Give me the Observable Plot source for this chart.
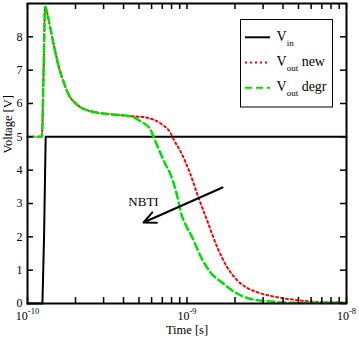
<!DOCTYPE html>
<html><head><meta charset="utf-8">
<script src="https://cdn.jsdelivr.net/npm/d3@7"></script>
<script src="https://cdn.jsdelivr.net/npm/@observablehq/plot@0.6"></script>
<style>body{margin:0;background:#fff;} svg text{font-family:"Liberation Serif","Times New Roman",serif !important;}</style>
</head><body><div id="chart"></div>
<script>
// ---- data ----
const vinTime = [1e-10, 1.24e-10, 1.27e-10, 1.30e-10, 1e-8];
const vinVolt = [0, 0, 2, 5, 5];

const degrTime = [1.00e-10, 1.23e-10, 1.26e-10, 1.29e-10, 1.35e-10, 1.39e-10, 1.46e-10, 1.59e-10, 1.68e-10, 1.81e-10,
  2.04e-10, 2.48e-10, 3.45e-10, 4.41e-10, 5.10e-10, 5.89e-10, 6.33e-10, 7.32e-10, 7.87e-10, 8.87e-10,
  9.09e-10, 9.77e-10, 1.08e-9, 1.24e-9, 1.40e-9, 1.70e-9, 2.06e-9, 2.50e-9, 3.34e-9, 4.91e-9, 1e-8];
const degrVolt = [5.0, 5.0, 6.86, 8.9, 8.56, 8.26, 7.76, 7.01, 6.66, 6.27,
  5.97, 5.77, 5.67, 5.62, 5.47, 5.22, 4.87, 4.18, 3.88, 3.03,
  2.78, 2.38, 1.98, 1.34, 0.94, 0.59, 0.30, 0.14, 0.06, 0.02, 0.02];

const newTime = [1.00e-10, 1.23e-10, 1.26e-10, 1.29e-10, 1.35e-10, 1.39e-10, 1.46e-10, 1.59e-10, 1.68e-10, 1.81e-10,
  2.04e-10, 2.48e-10, 3.45e-10, 4.41e-10, 5.35e-10, 5.89e-10, 6.98e-10, 7.87e-10, 8.25e-10, 9.09e-10,
  1.05e-9, 1.18e-9, 1.34e-9, 1.55e-9, 1.79e-9, 2.06e-9, 2.38e-9, 2.75e-9, 3.68e-9, 5.15e-9, 6.88e-9, 1e-8];
const newVolt = [5.0, 5.0, 6.86, 8.9, 8.56, 8.26, 7.76, 7.01, 6.66, 6.27,
  5.97, 5.77, 5.67, 5.62, 5.59, 5.55, 5.37, 5.12, 4.92, 4.57,
  3.88, 3.18, 2.48, 1.68, 1.08, 0.70, 0.47, 0.34, 0.19, 0.09, 0.04, 0.03];

const xMajorTicks = [1e-10, 1e-9, 1e-8];
const xMinorTicks = [2e-10, 3e-10, 4e-10, 5e-10, 6e-10, 7e-10, 8e-10, 9e-10, 2e-9, 3e-9, 4e-9, 5e-9, 6e-9, 7e-9, 8e-9, 9e-9];
const yTicks = [0, 1, 2, 3, 4, 5, 6, 7, 8];

const nbtiX1 = [1.67e-9], nbtiY1 = [3.48], nbtiX2 = [5.34e-10], nbtiY2 = [2.43];
const nbtiLabel = ["NBTI"], nbtiLabelX = [5.34e-10], nbtiLabelY = [3.05];

const legendMain = ["V", "V", "V"];
const legendSub = ["in", "out", "out"];
const legendRest = ["", " new", " degr"];
const legendColors = ["black", "red", "#00e000"];
const legendDash = [null, "2,3", "7,4"];

const xLabel = "Time [s]";
const yLabel = "Voltage [V]";

// ---- build ----
const vin = vinTime.map((t, i) => ({t, v: vinVolt[i]}));
const degr = degrTime.map((t, i) => ({t, v: degrVolt[i]}));
const fresh = newTime.map((t, i) => ({t, v: newVolt[i]}));
const arrows = nbtiX1.map((x, i) => ({x1: x, y1: nbtiY1[i], x2: nbtiX2[i], y2: nbtiY2[i]}));
const labels = nbtiLabel.map((s, i) => ({s, x: nbtiLabelX[i], y: nbtiLabelY[i]}));

const W = 359, H = 338, mL = 27, mR = 13, mT = 3, mB = 35;
const pw = W - mL - mR, ph = H - mT - mB, tk = 6;
const serif = '"Liberation Serif", "Times New Roman", serif';

const chart = Plot.plot({
  width: W, height: H,
  marginLeft: mL, marginRight: mR, marginTop: mT, marginBottom: mB,
  style: {fontFamily: serif, fontSize: "12px", background: "white", color: "black"},
  x: {type: "log", domain: [1e-10, 1e-8]},
  y: {domain: [0, 9]},
  marks: [
    Plot.axisX({ticks: xMajorTicks, tickSize: 0, tickPadding: 8, fontSize: 12, tickFormat: d => "10^" + Math.round(Math.log10(d)), label: null}),
    Plot.axisY({ticks: yTicks, tickSize: 0, tickPadding: 5, fontSize: 12, label: null}),
    Plot.line(vin, {x: "t", y: "v", stroke: legendColors[0], strokeWidth: 2}),
    Plot.line(fresh, {x: "t", y: "v", stroke: legendColors[1], strokeWidth: 2, strokeDasharray: legendDash[1], curve: "monotone-x"}),
    Plot.line(degr, {x: "t", y: "v", stroke: legendColors[2], strokeWidth: 2.5, strokeDasharray: legendDash[2], curve: "monotone-x"}),
    Plot.arrow(arrows, {x1: "x1", y1: "y1", x2: "x2", y2: "y2", stroke: "black", strokeWidth: 2, headLength: 10, headAngle: 50}),
    Plot.text(labels, {x: "x", y: "y", text: "s", fontSize: 13, fill: "black"}),
    Plot.ruleX([...xMajorTicks, ...xMinorTicks], {x: d => d, insetTop: ph - tk, stroke: "black", strokeWidth: 1.5}),
    Plot.ruleX([...xMajorTicks, ...xMinorTicks], {x: d => d, insetBottom: ph - tk, stroke: "black", strokeWidth: 1.5}),
    Plot.ruleY(yTicks, {y: d => d, insetRight: pw - tk, stroke: "black", strokeWidth: 1.5}),
    Plot.ruleY(yTicks, {y: d => d, insetLeft: pw - tk, stroke: "black", strokeWidth: 1.5}),
    Plot.frame({stroke: "black", strokeWidth: 2}),
    Plot.text([xLabel], {frameAnchor: "bottom", dy: 30.5, fontSize: 12.5, fill: "black"}),
    Plot.text([yLabel], {frameAnchor: "left", rotate: -90, dx: -19.5, fontSize: 12.5, fill: "black"})
  ]
});

// superscript exponents on x tick labels
d3.select(chart).selectAll("text").each(function() {
  const s = this.textContent;
  if (/^10\^-?\d+$/.test(s)) {
    const exp = s.slice(3);
    const el = d3.select(this);
    el.text(null);
    el.append("tspan").text("10");
    el.append("tspan").attr("dy", -6.5).attr("font-size", 8.5).text(exp);
  }
});

// legend
const svg = d3.select(chart);
const lg = svg.append("g").attr("font-family", serif).attr("font-size", 14).attr("text-anchor", "start");
lg.append("rect").attr("x", 240.5).attr("y", 19.5).attr("width", 92).attr("height", 87.5)
  .attr("fill", "white").attr("stroke", "black").attr("stroke-width", 1);
legendMain.forEach((m, i) => {
  const y = 37.3 + i * 25.2;
  lg.append("line").attr("x1", 245).attr("x2", 270).attr("y1", y).attr("y2", y)
    .attr("stroke", legendColors[i]).attr("stroke-width", 2)
    .attr("stroke-dasharray", legendDash[i]);
  const t = lg.append("text").attr("x", 276.5).attr("y", y + 3.5).attr("fill", "black").style("text-anchor", "start");
  t.append("tspan").text(m);
  t.append("tspan").attr("dy", 5).attr("font-size", 9).text(legendSub[i]);
  if (legendRest[i]) t.append("tspan").attr("dy", -5).text(legendRest[i]);
});

document.getElementById("chart").appendChild(chart);
</script>
</body></html>
